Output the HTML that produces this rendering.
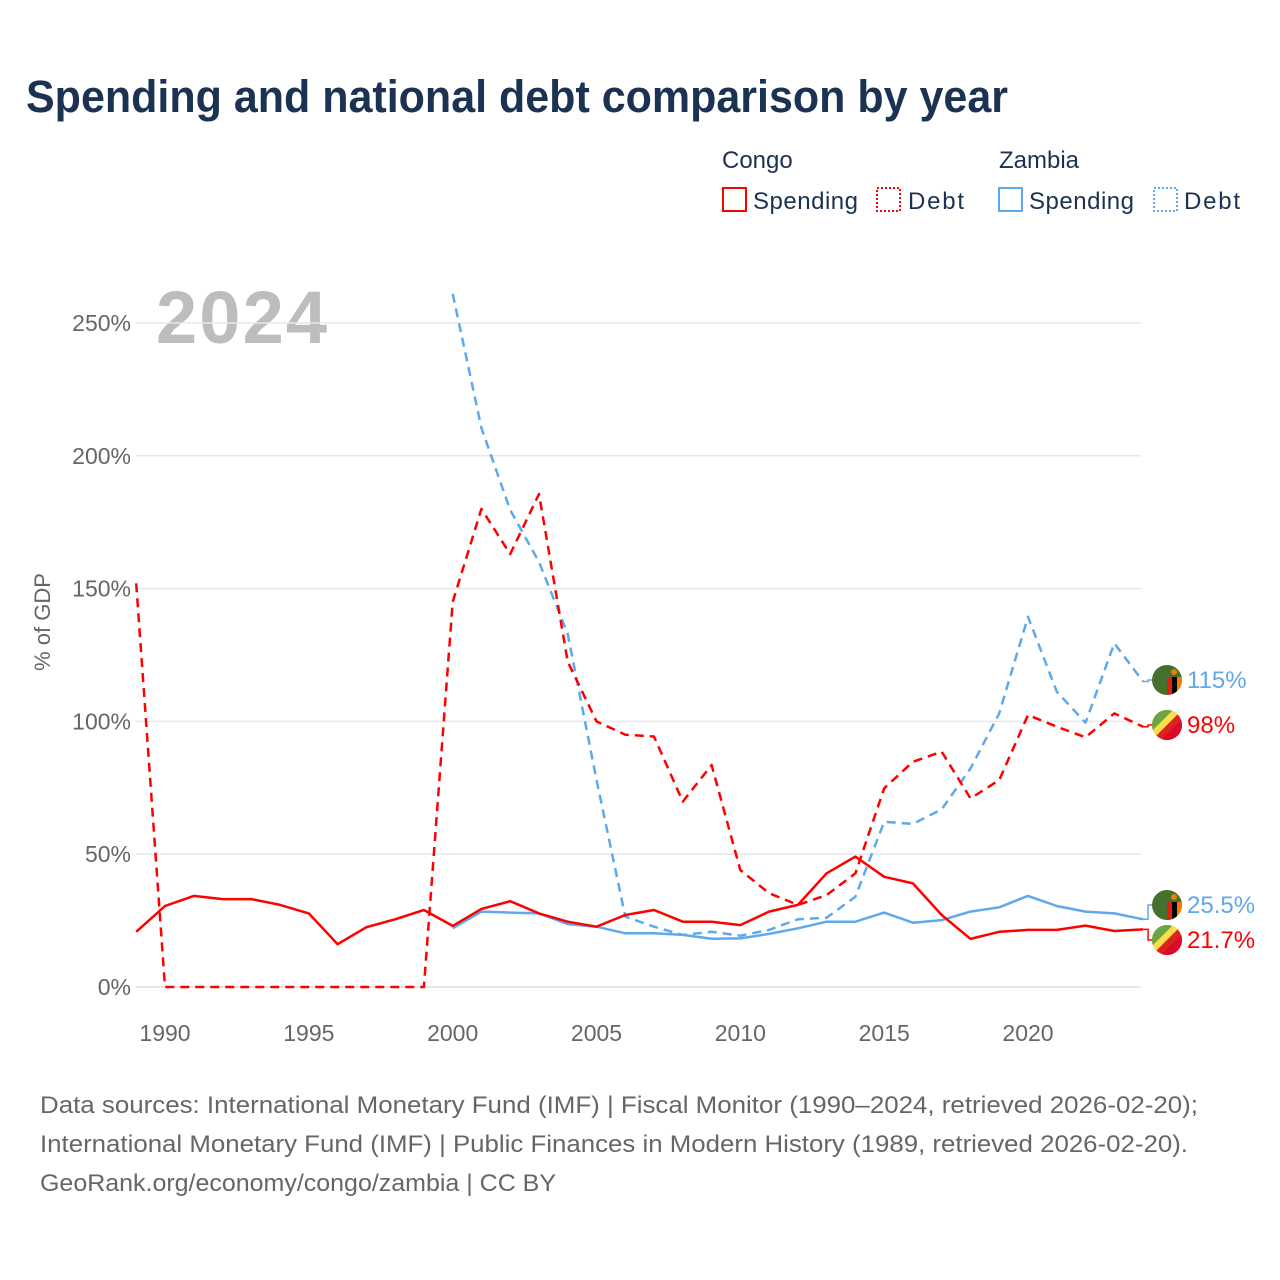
<!DOCTYPE html>
<html><head><meta charset="utf-8"><style>
html,body{margin:0;padding:0;background:#fff;}
body{width:1280px;height:1280px;position:relative;font-family:"Liberation Sans",sans-serif;overflow:hidden;}
</style></head><body>
<svg id="chart" width="1280" height="1280" xmlns="http://www.w3.org/2000/svg" style="position:absolute;left:0;top:0">
<text x="26" y="112" font-size="45" font-weight="bold" fill="#1b3253" textLength="982" lengthAdjust="spacingAndGlyphs">Spending and national debt comparison by year</text>
<g font-size="24" fill="#1b3253">
<text x="722" y="168">Congo</text>
<text x="999" y="168">Zambia</text>
<g><rect x="723" y="188" width="23" height="23" fill="none" stroke="#f00" stroke-width="2"/><text x="753" y="209" textLength="105">Spending</text></g>
<g><rect x="877" y="188" width="23" height="23" fill="none" stroke="#f00" stroke-width="2" stroke-dasharray="2,2"/><text x="908" y="209" textLength="56">Debt</text></g>
<g><rect x="999" y="188" width="23" height="23" fill="none" stroke="#5ea8ec" stroke-width="2"/><text x="1029" y="209" textLength="105">Spending</text></g>
<g><rect x="1154" y="188" width="23" height="23" fill="none" stroke="#5ea8ec" stroke-width="2" stroke-dasharray="2,2"/><text x="1184" y="209" textLength="56">Debt</text></g>
</g>
<text x="156" y="343" font-size="74" font-weight="bold" fill="#bdbdbd" textLength="171">2024</text>
<text transform="translate(50,622) rotate(-90)" text-anchor="middle" font-size="22" fill="#666">% of GDP</text>
<g id="grid"></g><g id="series"></g><g id="labels"></g>
<g font-size="24" fill="#666">
<text x="40" y="1113" textLength="1158" lengthAdjust="spacingAndGlyphs">Data sources: International Monetary Fund (IMF) | Fiscal Monitor (1990–2024, retrieved 2026-02-20);</text>
<text x="40" y="1152" textLength="1148" lengthAdjust="spacingAndGlyphs">International Monetary Fund (IMF) | Public Finances in Modern History (1989, retrieved 2026-02-20).</text>
<text x="40" y="1191" textLength="516" lengthAdjust="spacingAndGlyphs">GeoRank.org/economy/congo/zambia | CC BY</text>
</g>
</svg>
<script>
const congoYears = [1989,1990,1991,1992,1993,1994,1995,1996,1997,1998,1999,2000,2001,2002,2003,2004,2005,2006,2007,2008,2009,2010,2011,2012,2013,2014,2015,2016,2017,2018,2019,2020,2021,2022,2023,2024];
const congoSpending = [20.8,30.5,34.3,33.1,33.1,30.9,27.7,16.1,22.5,25.5,29,23,29.4,32.3,27.7,24.6,22.7,27.1,29,24.6,24.6,23.3,28.4,30.9,42.8,49.1,41.5,39,27.1,18.1,20.8,21.5,21.5,23.1,21.1,21.7];
const congoDebt = [152,0,0,0,0,0,0,0,0,0,0,145,180,163,185.6,122.5,100,95,94.3,69.8,83.6,44,35.3,30.9,34.6,42.8,74.8,84.8,88.6,71,77.9,102.4,98,94,103,98];
const zambiaYears = [2000,2001,2002,2003,2004,2005,2006,2007,2008,2009,2010,2011,2012,2013,2014,2015,2016,2017,2018,2019,2020,2021,2022,2023,2024];
const zambiaSpending = [22.1,28.4,28,27.7,23.7,22.7,20.2,20.2,19.6,18.2,18.3,20,22.1,24.6,24.6,28,24.2,25.2,28.4,30,34.3,30.5,28.4,27.7,25.5];
const zambiaDebt = [261,210.5,179.6,160,133,78,26.5,22.7,19.6,20.8,19.3,21.5,25.5,26.1,34,62.2,61.4,66.9,82.3,103,139.4,111.2,99.5,129.4,115];
const yTicks = [0,50,100,150,200,250];
const xTicks = [1990,1995,2000,2005,2010,2015,2020];

const NS="http://www.w3.org/2000/svg";
const x = yr => 165 + (yr-1990)*28.767;
const y = v => 987 - v*2.656;
function mk(tag, attrs, parent){const e=document.createElementNS(NS,tag);for(const k in attrs)e.setAttribute(k,attrs[k]);parent.appendChild(e);return e;}
const grid=document.getElementById('grid'), series=document.getElementById('series'), labels=document.getElementById('labels');
yTicks.forEach(t=>{
  const l=mk('line',{x1:136,x2:1141,y1:y(t),y2:y(t),stroke:t===0?'#ddd':'#e8e8e8','stroke-width':1.5},grid);
  
  
  const tx=mk('text',{x:131,y:y(t)+8,'text-anchor':'end','font-size':23,fill:'#666'},grid);
  tx.textContent=t+'%';
  
  
});
xTicks.forEach(t=>{
  const tx=mk('text',{x:x(t),y:1041,'text-anchor':'middle','font-size':23,fill:'#666'},grid);
  tx.textContent=t;
  
  
});
function line(years, vals, color, dash, name){
  const pts=years.map((yr,i)=>x(yr).toFixed(1)+','+y(vals[i]).toFixed(1)).join(' ');
  const p=mk('polyline',{points:pts,fill:'none',stroke:color,'stroke-width':2.5,'stroke-linejoin':'round'},series);
  if(dash)p.setAttribute('stroke-dasharray','9,6');
  
  
}
line(zambiaYears,zambiaDebt,'#5ea8ec',true,'zambia-debt-line');
line(zambiaYears,zambiaSpending,'#5ea8ec',false,'zambia-spending-line');
line(congoYears,congoDebt,'#f00',true,'congo-debt-line');
line(congoYears,congoSpending,'#f00',false,'congo-spending-line');

function endLabel(val, ly, color, flag, text, name){
  const ex=x(2024), ey=y(val);
  mk('polyline',{points:`${ex},${ey} ${ex+5},${ey} ${ex+5},${ly} ${ex+12},${ly}`,fill:'none',stroke:color,'stroke-width':1.5},labels);
  const g=mk('g',{},labels);
  
  
  const cx=1167, cy=ly;
  const cp='cp'+name;
  const d=mk('clipPath',{id:cp},g); mk('circle',{cx:cx,cy:cy,r:15},d);
  const f=mk('g',{'clip-path':`url(#${cp})`},g);
  if(flag==='zm'){
    mk('rect',{x:cx-15,y:cy-15,width:30,height:30,fill:'#46702e'},f);
    mk('rect',{x:cx,y:cy-3,width:5,height:18,fill:'#de2010'},f);
    mk('rect',{x:cx+5,y:cy-3,width:5,height:18,fill:'#000'},f);
    mk('rect',{x:cx+10,y:cy-3,width:5,height:18,fill:'#ef7d00'},f);
    mk('circle',{cx:cx+7,cy:cy-8,r:3,fill:'#ef7d00'},f);
  } else {
    mk('rect',{x:cx-15,y:cy-15,width:30,height:30,fill:'#dc241f'},f);
    mk('polygon',{points:`${cx-15},${cy-15} ${cx+15},${cy-15} ${cx-15},${cy+15}`,fill:'#fbde4a'},f);
    mk('polygon',{points:`${cx-15},${cy-15} ${cx+6},${cy-15} ${cx-15},${cy+6}`,fill:'#6ea544'},f);
    mk('polygon',{points:`${cx+15},${cy-6} ${cx+15},${cy+15} ${cx-6},${cy+15}`,fill:'#dc0a2a'},f);
  }
  const t=mk('text',{x:1187,y:ly+8,'font-size':24,fill:color},g);
  t.textContent=text;
}
endLabel(zambiaDebt[zambiaDebt.length-1],680,'#5ea8ec','zm','115%','zambia-debt-end-label');
endLabel(congoDebt[congoDebt.length-1],725,'#f00','cg','98%','congo-debt-end-label');
endLabel(zambiaSpending[zambiaSpending.length-1],905,'#5ea8ec','zm','25.5%','zambia-spending-end-label');
endLabel(congoSpending[congoSpending.length-1],940,'#f00','cg','21.7%','congo-spending-end-label');
</script>
</body></html>
